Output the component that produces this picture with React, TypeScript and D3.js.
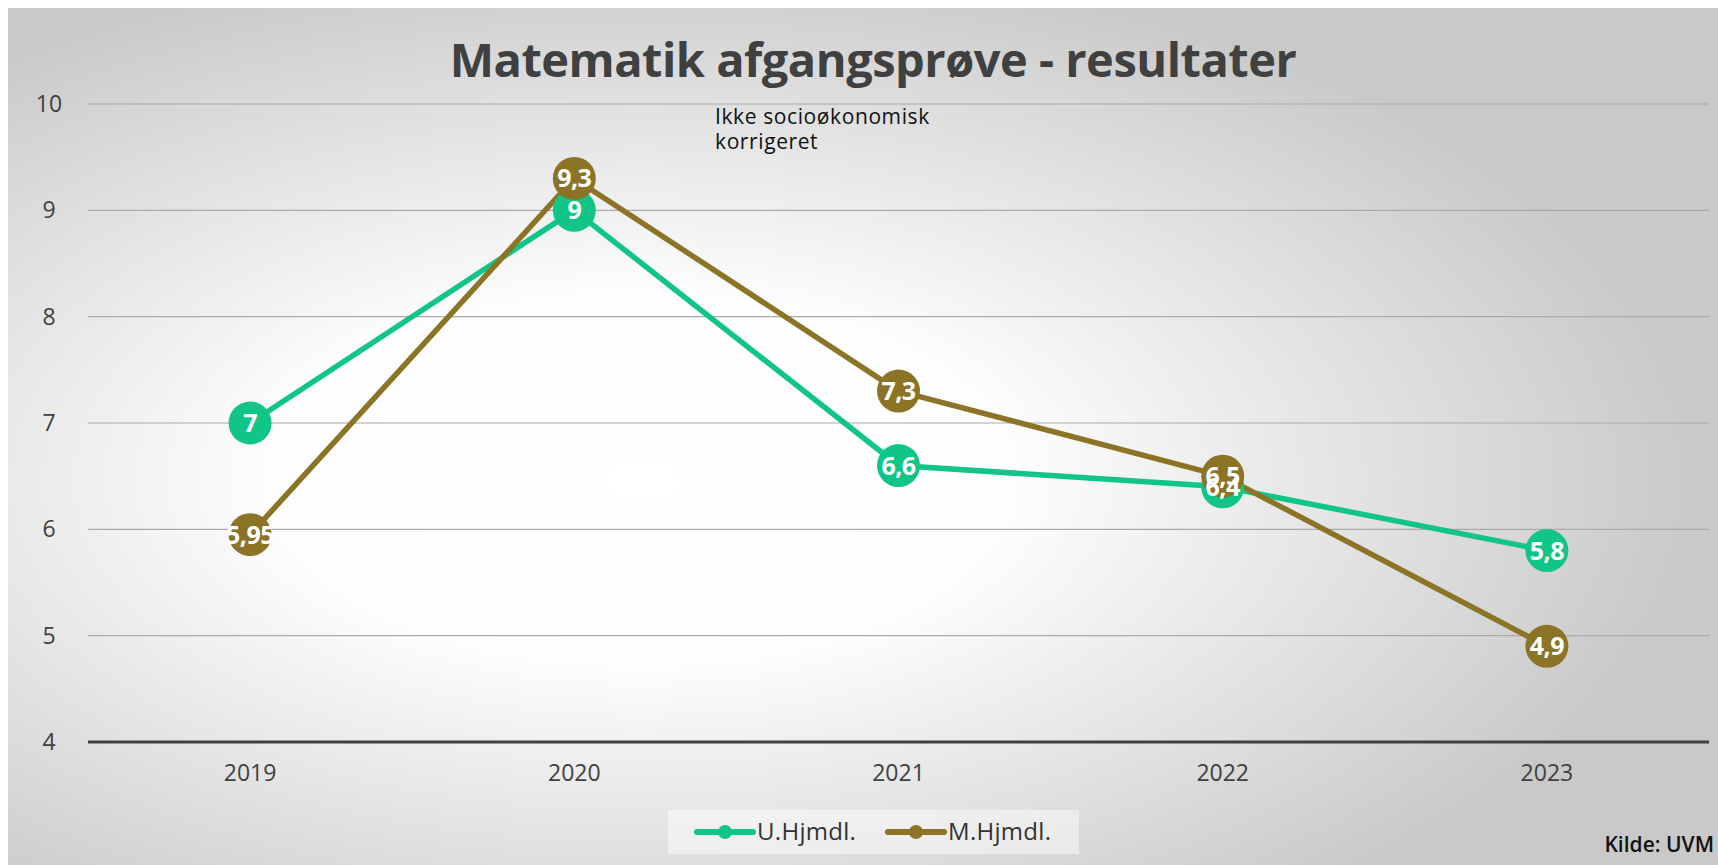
import React from "react";
import * as d3 from "d3";

const years = ["2019", "2020", "2021", "2022", "2023"];
const uHjmdl = [7, 9, 6.6, 6.4, 5.8];
const mHjmdl = [5.95, 9.3, 7.3, 6.5, 4.9];
const yTicks = [4, 5, 6, 7, 8, 9, 10];

const series = [
  { name: "U.Hjmdl.", values: uHjmdl, color: "#10c585" },
  { name: "M.Hjmdl.", values: mHjmdl, color: "#8b7426" },
];

const W = 1718;
const H = 865;
const font = "'Open Sans', Lato, sans-serif";

export default function App() {
  const x = d3.scaleBand().domain(years).range([88, 1709]);
  const y = d3.scaleLinear().domain([4, 10]).range([742, 104]);
  const cx = (d: string) => (x(d) as number) + x.bandwidth() / 2;

  const line = d3
    .line<number>()
    .x((_, i) => cx(years[i]))
    .y((v) => y(v));

  const fmt = (v: number) => String(v).replace(".", ",");

  return (
    <svg
      width={W}
      height={H}
      style={{ position: "fixed", left: 0, top: 0, display: "block" }}
    >
      <defs>
        <radialGradient id="bg" cx="0.37" cy="0.55" r="0.62" fx="0.37" fy="0.55">
          <stop offset="0" stopColor="#ffffff" />
          <stop offset="0.35" stopColor="#fdfdfd" />
          <stop offset="1" stopColor="#c9c9c9" />
        </radialGradient>
      </defs>
      <rect x={0} y={0} width={W} height={H} fill="#fff" />
      <rect x={8} y={8} width={W - 8} height={H - 8} fill="url(#bg)" />

      <text
        x={873}
        y={77}
        textAnchor="middle"
        fontFamily={font}
        fontWeight={700}
        fontSize={47}
        letterSpacing={-0.5}
        fill="#404040"
      >
        Matematik afgangsprøve - resultater
      </text>

      {yTicks.map((t) => (
        <g key={t}>
          {t > 4 && (
            <line x1={88} x2={1709} y1={y(t)} y2={y(t)} stroke="#aaaaaa" strokeWidth={1.2} />
          )}
          <text
            x={49}
            y={y(t) + 8}
            textAnchor="middle"
            fontFamily={font}
            fontSize={23}
            fill="#404040"
          >
            {t}
          </text>
        </g>
      ))}
      <line x1={88} x2={1709} y1={y(4)} y2={y(4)} stroke="#404040" strokeWidth={3} />

      {years.map((yr) => (
        <text
          key={yr}
          x={cx(yr)}
          y={781}
          textAnchor="middle"
          fontFamily={font}
          fontSize={23}
          fill="#404040"
        >
          {yr}
        </text>
      ))}

      <text fontFamily={font} fontSize={21} letterSpacing={0.6} fill="#111">
        <tspan x={715} y={124}>Ikke socioøkonomisk</tspan>
        <tspan x={715} y={149}>korrigeret</tspan>
      </text>

      {series.map((s) => (
        <path
          key={s.name}
          d={line(s.values) || ""}
          fill="none"
          stroke={s.color}
          strokeWidth={5.5}
          strokeLinejoin="round"
        />
      ))}

      {series.map((s) =>
        s.values.map((v, i) => (
          <circle key={s.name + i} cx={cx(years[i])} cy={y(v)} r={21.5} fill={s.color} />
        ))
      )}
      {series.map((s) =>
        s.values.map((v, i) => (
          <text
            key={s.name + "l" + i}
            x={cx(years[i])}
            y={y(v) + 9}
            textAnchor="middle"
            fontFamily={font}
            fontWeight={700}
            fontSize={25}
            letterSpacing={-0.5}
            fill="#fff"
          >
            {fmt(v)}
          </text>
        ))
      )}

      <rect x={668} y={810} width={411} height={44} fill="#ffffff" fillOpacity={0.45} />
      {series.map((s, i) => {
        const lx = 697 + i * 191;
        return (
          <g key={s.name + "leg"}>
            <line x1={lx} x2={lx + 56} y1={832} y2={832} stroke={s.color} strokeWidth={6} strokeLinecap="round" />
            <circle cx={lx + 28} cy={832} r={7} fill={s.color} />
            <text
              x={lx + 60}
              y={840}
              fontFamily={font}
              fontSize={24}
              letterSpacing={0.3}
              fill="#333"
            >
              {s.name}
            </text>
          </g>
        );
      })}

      <text
        x={1714}
        y={852}
        textAnchor="end"
        fontFamily={font}
        fontWeight={600}
        fontSize={21}
        fill="#111"
      >
        Kilde: UVM
      </text>
    </svg>
  );
}
